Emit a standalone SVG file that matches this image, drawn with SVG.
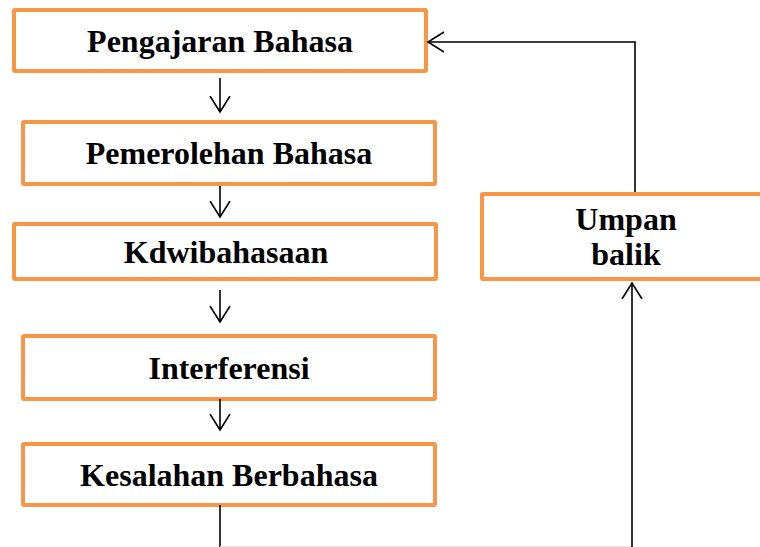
<svg xmlns="http://www.w3.org/2000/svg" width="760" height="547" viewBox="0 0 760 547">
<style>
.box{fill:#fff;stroke:#F79646;stroke-width:4}
.t{font-family:"Liberation Serif","Times New Roman",serif;font-weight:bold;font-size:32px;fill:#000;text-anchor:middle}
.c{fill:none;stroke:#000;stroke-width:1.6}
</style>
<defs>
<marker id="ah" markerWidth="24" markerHeight="24" refX="16" refY="10" orient="auto" markerUnits="userSpaceOnUse" viewBox="0 0 24 20">
<path d="M0,0 L16,10 L0,20" fill="none" stroke="#000" stroke-width="1.6"/>
</marker>
</defs>
<rect width="760" height="547" fill="#fff"/>
<g id="n1"><rect class="box" x="14" y="10" width="412" height="61" rx="1"/><text class="t" x="220" y="52">Pengajaran Bahasa</text></g>
<g id="n2"><rect class="box" x="23" y="122" width="412" height="62" rx="1"/><text class="t" x="229" y="164">Pemerolehan Bahasa</text></g>
<g id="n3"><rect class="box" x="14" y="224" width="422" height="55" rx="1"/><text class="t" x="226" y="263">Kdwibahasaan</text></g>
<g id="n4"><rect class="box" x="23" y="336" width="412" height="63" rx="1"/><text class="t" x="229" y="379">Interferensi</text></g>
<g id="n5"><rect class="box" x="23" y="444" width="412" height="61" rx="1"/><text class="t" x="229" y="486">Kesalahan Berbahasa</text></g>
<g id="n6"><rect class="box" x="482" y="194" width="300" height="85" rx="1"/><text class="t" x="626" y="230">Umpan</text><text class="t" x="626" y="265">balik</text></g>
<g id="connectors">
<line class="c" x1="220" y1="78" x2="220" y2="112" marker-end="url(#ah)"/>
<line class="c" x1="220" y1="186" x2="220" y2="217" marker-end="url(#ah)"/>
<line class="c" x1="220" y1="290" x2="220" y2="322" marker-end="url(#ah)"/>
<line class="c" x1="220" y1="399" x2="220" y2="430" marker-end="url(#ah)"/>
<line class="c" x1="220" y1="505" x2="220" y2="547"/>
<line x1="220" y1="546.5" x2="632" y2="546.5" stroke="#e4e4e4" stroke-width="1"/>
<line class="c" x1="632" y1="547" x2="632" y2="283" marker-end="url(#ah)"/>
<polyline class="c" points="635,192 635,42 428,42" marker-end="url(#ah)"/>
</g>
</svg>
